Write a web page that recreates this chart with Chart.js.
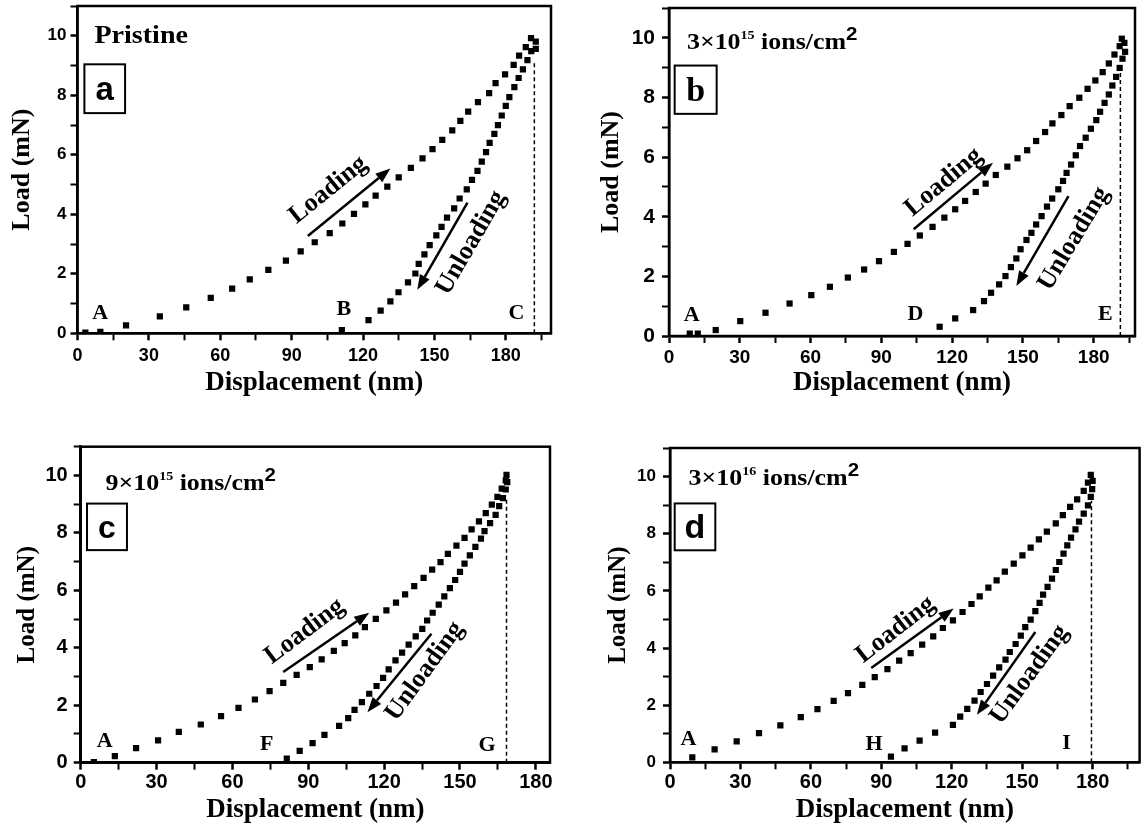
<!DOCTYPE html>
<html>
<head>
<meta charset="utf-8">
<script src="https://cdn.jsdelivr.net/npm/chart.js@4.4.1/dist/chart.umd.min.js"></script>
<style>
  body { margin: 0; background: #fff; overflow: hidden; }
  #page { position: relative; width: 1144px; height: 825px; background: #fff; }
  .panel { position: absolute; width: 572px; }
</style>
</head>
<body>
<div id="page">
  <div class="panel" style="left:0;top:0;height:412px"><canvas id="chartA"></canvas></div>
  <div class="panel" style="left:572px;top:0;height:412px"><canvas id="chartB"></canvas></div>
  <div class="panel" style="left:0;top:412px;height:413px"><canvas id="chartC"></canvas></div>
  <div class="panel" style="left:572px;top:412px;height:413px"><canvas id="chartD"></canvas></div>
</div>
<script>
const SANS = "'Liberation Sans', Arial, sans-serif";
const SERIF = "'Liberation Serif', 'Times New Roman', serif";

// axis ticks (minor every 15 nm / 1 mN, labels on the majors)
const xTickValues = [0, 15, 30, 45, 60, 75, 90, 105, 120, 135, 150, 165, 180, 195];
const xTickLabels = [0, 30, 60, 90, 120, 150, 180];
const yTickValues = [0, 1, 2, 3, 4, 5, 6, 7, 8, 9, 10, 11];
const yTickLabels = [0, 2, 4, 6, 8, 10];

// [displacement nm, load mN]
const pristineLoading = [[3.3,0.02],[9.6,0.05],[20.4,0.27],[34.6,0.57],[45.7,0.87],[56.0,1.19],[65.0,1.50],[72.4,1.81],[80.2,2.13],[87.6,2.44],[93.8,2.75],[99.7,3.06],[106.0,3.37],[111.3,3.69],[116.2,4.01],[121.0,4.33],[125.3,4.63],[130.2,4.93],[135.0,5.24],[140.1,5.56],[145.0,5.88],[149.2,6.19],[153.3,6.50],[157.5,6.82],[160.9,7.14],[164.2,7.45],[168.3,7.77],[173.0,8.07],[175.7,8.41],[179.7,8.70],[183.3,9.02],[185.6,9.33],[188.4,9.62],[190.6,9.92]];
const pristineUnloading = [[111.1,0.11],[122.3,0.44],[127.4,0.76],[131.5,1.07],[134.9,1.38],[138.9,1.71],[142.0,2.01],[143.4,2.33],[145.8,2.65],[148.0,2.96],[150.8,3.29],[153.0,3.58],[155.3,3.89],[158.3,4.20],[160.6,4.53],[163.6,4.84],[165.8,5.16],[168.1,5.46],[169.9,5.77],[171.7,6.09],[173.2,6.40],[175.2,6.70],[176.7,7.00],[178.3,7.32],[180.0,7.64],[181.5,7.94],[183.6,8.27],[185.4,8.58],[187.2,8.87],[189.1,9.18],[190.7,9.48],[192.6,9.56],[192.6,9.80]];

const dose3e15Loading = [[8.8,0.08],[12.2,0.08],[19.8,0.20],[30.2,0.50],[40.9,0.78],[51.1,1.09],[60.3,1.37],[68.2,1.65],[75.8,1.96],[82.7,2.23],[89.0,2.51],[95.3,2.82],[101.1,3.09],[106.3,3.37],[111.7,3.66],[116.7,3.97],[121.3,4.25],[125.5,4.53],[130.0,4.83],[134.2,5.11],[138.5,5.40],[143.4,5.68],[147.7,5.96],[151.8,6.23],[155.6,6.54],[159.4,6.84],[162.5,7.13],[166.3,7.41],[169.8,7.71],[173.9,7.99],[177.4,8.29],[180.7,8.57],[183.8,8.85],[186.4,9.14],[188.8,9.44],[191.0,9.72],[191.9,9.97]];
const dose3e15Unloading = [[114.7,0.31],[121.3,0.59],[128.9,0.87],[133.5,1.17],[136.5,1.45],[139.9,1.73],[142.6,2.01],[144.9,2.31],[147.2,2.60],[149.0,2.91],[151.5,3.22],[153.6,3.46],[155.6,3.74],[157.9,4.02],[160.2,4.34],[162.4,4.61],[165.0,4.92],[167.0,5.20],[168.5,5.47],[170.4,5.75],[172.4,6.06],[174.2,6.37],[176.6,6.65],[178.8,6.95],[181.1,7.24],[182.7,7.52],[184.6,7.82],[186.4,8.10],[187.9,8.40],[189.5,8.69],[191.0,8.99],[192.2,9.30],[193.3,9.53],[193.0,9.83]];

const dose9e15Loading = [[5.2,0.02],[13.5,0.23],[21.9,0.51],[30.6,0.78],[38.8,1.07],[47.5,1.33],[55.5,1.62],[62.4,1.91],[68.9,2.20],[74.7,2.49],[80.1,2.78],[85.4,3.06],[90.6,3.33],[95.3,3.60],[100.1,3.89],[104.4,4.16],[108.6,4.43],[112.4,4.72],[116.7,5.01],[120.9,5.30],[124.7,5.57],[128.3,5.86],[131.9,6.15],[135.6,6.43],[139.0,6.72],[142.3,6.98],[145.2,7.27],[148.6,7.56],[151.8,7.83],[154.6,8.12],[157.5,8.40],[160.2,8.69],[162.6,8.98],[164.8,9.25],[166.5,9.54],[168.1,9.83],[168.4,10.02]];
const dose9e15Unloading = [[81.5,0.14],[86.6,0.41],[91.7,0.68],[96.4,0.97],[102.2,1.28],[105.8,1.55],[108.3,1.84],[111.2,2.11],[114.1,2.40],[117.0,2.67],[119.6,2.95],[121.8,3.25],[124.5,3.56],[127.1,3.83],[129.7,4.11],[132.5,4.40],[135.1,4.66],[137.0,4.95],[139.2,5.22],[141.6,5.50],[143.8,5.79],[146.0,6.08],[148.1,6.36],[150.0,6.64],[151.8,6.93],[153.9,7.22],[156.1,7.51],[158.3,7.80],[159.7,8.06],[161.9,8.34],[164.1,8.63],[165.5,8.93],[167.0,9.21],[168.1,9.51],[168.7,9.77]];

const dose3e16Loading = [[9.5,0.17],[19.0,0.45],[28.4,0.73],[37.9,1.02],[47.0,1.29],[55.7,1.58],[62.8,1.86],[69.7,2.15],[75.8,2.42],[81.9,2.71],[87.2,2.98],[92.6,3.26],[97.6,3.56],[102.5,3.82],[107.4,4.12],[112.1,4.41],[116.2,4.70],[120.5,4.97],[124.6,5.26],[128.4,5.54],[131.9,5.81],[135.6,6.11],[139.1,6.37],[142.6,6.67],[146.4,6.95],[150.1,7.24],[153.6,7.51],[157.1,7.80],[160.5,8.07],[164.3,8.36],[167.3,8.65],[170.4,8.94],[173.4,9.20],[176.2,9.50],[178.0,9.79],[179.2,10.06]];
const dose3e16Unloading = [[94.1,0.20],[99.9,0.49],[106.3,0.76],[112.9,1.04],[120.5,1.31],[123.6,1.60],[126.6,1.87],[129.7,2.16],[132.3,2.46],[135.0,2.74],[137.6,3.03],[140.2,3.32],[142.9,3.59],[144.7,3.86],[147.2,4.14],[149.4,4.43],[151.3,4.73],[153.6,4.99],[155.6,5.29],[157.4,5.58],[158.9,5.87],[160.8,6.14],[162.7,6.43],[164.3,6.73],[165.8,7.01],[167.6,7.30],[169.2,7.59],[170.8,7.86],[172.7,8.15],[174.2,8.42],[176.2,8.70],[178.0,8.99],[179.2,9.29],[179.8,9.56],[180.0,9.85]];

// dashed drop line at maximum depth: [x, top]
const pristinePeak = [192.0, 9.1];
const dose3e15Peak = [191.3, 9.05];
const dose9e15Peak = [168.4, 9.19];
const dose3e16Peak = [179.5, 9.15];

const toXY = (pairs) => pairs.map(([x, y]) => ({ x, y }));

function drawArrow(ctx, x0, y0, x1, y1) {
  const ang = Math.atan2(y1 - y0, x1 - x0);
  const head = 15, half = 5.5;
  const bx = x1 - head * Math.cos(ang), by = y1 - head * Math.sin(ang);
  ctx.lineWidth = 2.5;
  ctx.beginPath();
  ctx.moveTo(x0, y0);
  ctx.lineTo(bx, by);
  ctx.stroke();
  ctx.beginPath();
  ctx.moveTo(x1, y1);
  ctx.lineTo(bx + half * Math.sin(ang), by - half * Math.cos(ang));
  ctx.lineTo(bx - half * Math.sin(ang), by + half * Math.cos(ang));
  ctx.closePath();
  ctx.fill();
}

function drawRotated(ctx, text, x, y, deg) {
  ctx.save();
  ctx.translate(x, y);
  ctx.rotate(deg * Math.PI / 180);
  ctx.textAlign = 'center';
  ctx.textBaseline = 'middle';
  ctx.fillText(text, 0, 0);
  ctx.restore();
}

// frame, heading, letter box, point letters and the loading/unloading arrows
function makeNotes(p) {
  return {
    id: 'panelNotes',
    afterDraw(chart) {
      const { ctx, chartArea: area, scales: { x, y } } = chart;
      const px = (v) => x.getPixelForValue(v);
      const py = (v) => y.getPixelForValue(v);
      ctx.save();
      ctx.strokeStyle = '#000';
      ctx.fillStyle = '#000';
      ctx.lineWidth = 2.5;
      ctx.strokeRect(area.left, area.top, area.right - area.left, area.bottom - area.top);

      // heading, slightly widened like the rest of the lettering
      ctx.save();
      ctx.translate(px(p.headingAt[0]), py(p.headingAt[1]));
      ctx.scale(1.08, 1);
      ctx.textAlign = 'left';
      ctx.textBaseline = 'alphabetic';
      let hx = 0;
      p.heading.forEach(([text, size, rise, family]) => {
        ctx.font = `bold ${size}px ${family || SERIF}`;
        ctx.fillText(text, hx, -rise);
        hx += ctx.measureText(text).width;
      });
      ctx.restore();

      // panel letter
      const [bx0, bx1, by0, by1] = p.badge;
      const l = px(bx0), r = px(bx1), t = py(by0), b = py(by1);
      ctx.lineWidth = 2;
      ctx.strokeRect(l, t, r - l, b - t);
      ctx.font = p.badgeFont;
      ctx.textAlign = 'center';
      ctx.textBaseline = 'alphabetic';
      ctx.fillText(p.badgeText, (l + r) / 2, t + (b - t) * 0.74);

      // A, B, C ...
      ctx.font = `bold 22px ${SERIF}`;
      ctx.textBaseline = 'middle';
      p.marks.forEach(([text, mx, my]) => ctx.fillText(text, px(mx), py(my)));

      // arrows with rotated captions
      const la = p.loadArrow, ua = p.unloadArrow;
      drawArrow(ctx, px(la[0]), py(la[1]), px(la[2]), py(la[3]));
      drawArrow(ctx, px(ua[0]), py(ua[1]), px(ua[2]), py(ua[3]));
      ctx.font = `bold 26px ${SERIF}`;
      drawRotated(ctx, 'Loading', px(p.loadText[0]), py(p.loadText[1]), p.loadText[2]);
      drawRotated(ctx, 'Unloading', px(p.unloadText[0]), py(p.unloadText[1]), p.unloadText[2]);
      ctx.restore();
    }
  };
}

function buildPanel(p) {
  const pointStyle = { pointStyle: 'rect', pointRadius: 4.4, pointHoverRadius: 4.4, backgroundColor: '#000', borderWidth: 0 };
  return new Chart(document.getElementById(p.id), {
    type: 'scatter',
    data: {
      datasets: [
        { label: 'Loading', data: toXY(p.loading), ...pointStyle },
        { label: 'Unloading', data: toXY(p.unloading), ...pointStyle },
        {
          label: 'Max depth',
          data: [{ x: p.peak[0], y: 0 }, { x: p.peak[0], y: p.peak[1] }],
          showLine: true, borderColor: '#000', borderWidth: 1.5, borderDash: [4, 3], pointRadius: 0
        }
      ]
    },
    options: {
      responsive: true,
      maintainAspectRatio: false,
      animation: false,
      layout: { padding: { top: p.padTop, right: p.padRight, left: 0, bottom: 0 } },
      plugins: { legend: { display: false }, tooltip: { enabled: false } },
      scales: {
        x: {
          type: 'linear', min: 0, max: p.xMax,
          afterBuildTicks: (axis) => { axis.ticks = xTickValues.filter(v => v <= p.xMax).map(v => ({ value: v })); },
          afterFit: (axis) => { axis.height = p.xAxisH; axis.paddingLeft = 0; axis.paddingRight = 0; },
          ticks: {
            autoSkip: false, maxRotation: 0, padding: p.xTickPad, color: '#000',
            font: { family: SANS, size: p.xTickSize, weight: 'bold' },
            callback: (v) => xTickLabels.includes(v) ? String(v) : ''
          },
          grid: {
            drawOnChartArea: false, tickLength: 7, tickColor: '#000',
            tickWidth: (c) => xTickLabels.includes(c.tick && c.tick.value) ? 2.5 : 2
          },
          border: { display: true, color: '#000', width: 2.5 },
          title: {
            display: true, text: 'Displacement (nm)', color: '#000',
            font: { family: SERIF, size: 27, weight: 'bold', lineHeight: 1 },
            padding: { top: 0, bottom: p.xTitlePad }
          }
        },
        y: {
          type: 'linear', min: 0, max: 11,
          afterBuildTicks: (axis) => { axis.ticks = yTickValues.map(v => ({ value: v })); },
          afterFit: (axis) => { axis.width = p.yAxisW; axis.paddingTop = 0; axis.paddingBottom = 0; },
          ticks: {
            autoSkip: false, padding: p.yTickPad, color: '#000',
            font: { family: SANS, size: p.yTickSize, weight: 'bold' },
            callback: (v) => yTickLabels.includes(v) ? String(v) : ''
          },
          grid: {
            drawOnChartArea: false, tickLength: 7, tickColor: '#000',
            tickWidth: (c) => yTickLabels.includes(c.tick && c.tick.value) ? 2.5 : 2
          },
          border: { display: true, color: '#000', width: 2.5 },
          title: {
            display: true, text: 'Load (mN)', color: '#000',
            font: { family: SERIF, size: p.yTitleSize, weight: 'bold', lineHeight: 1 },
            padding: { top: p.yTitlePad, bottom: 0 }
          }
        }
      }
    },
    plugins: [makeNotes(p)]
  });
}

buildPanel({
  id: 'chartA', xMax: 199, loading: pristineLoading, unloading: pristineUnloading, peak: pristinePeak,
  padTop: 6, padRight: 21, yAxisW: 77.5, xAxisH: 78.7,
  xTickSize: 18, yTickSize: 17, xTickPad: 5, yTickPad: 4, xTitlePad: 15, yTitleSize: 26, yTitlePad: 9,
  heading: [['Pristine', 26, 0]], headingAt: [7.1, 9.77],
  badge: [2.9, 20, 9.04, 7.40], badgeText: 'a', badgeFont: `bold 33px ${SANS}`,
  marks: [['A', 9.5, 0.66], ['B', 111.9, 0.81], ['C', 184.5, 0.68]],
  loadArrow: [96.8, 3.27, 131.5, 5.54], loadText: [105.4, 4.82, -39],
  unloadArrow: [163.9, 4.39, 142.8, 1.46], unloadText: [165.4, 3.04, -60]
});

buildPanel({
  id: 'chartB', xMax: 197.5, loading: dose3e15Loading, unloading: dose3e15Unloading, peak: dose3e15Peak,
  padTop: 8, padRight: 9, yAxisW: 97, xAxisH: 76,
  xTickSize: 19, yTickSize: 21, xTickPad: 3, yTickPad: 7, xTitlePad: 15, yTitleSize: 26, yTitlePad: 26,
  heading: [['3×10', 24, 0], ['15', 13, 10], [' ions/cm', 24, 0], ['2', 19, 9, SANS]], headingAt: [7.6, 9.63],
  badge: [2.4, 20.2, 9.07, 7.45], badgeText: 'b', badgeFont: `bold 34px ${SERIF}`,
  marks: [['A', 9.6, 0.71], ['D', 104.5, 0.73], ['E', 184.9, 0.73]],
  loadArrow: [103.7, 3.58, 137.3, 5.81], loadText: [116.4, 5.16, -40],
  unloadArrow: [169.3, 4.69, 147.2, 1.68], unloadText: [171.6, 3.26, -59]
});

buildPanel({
  id: 'chartC', xMax: 185.6, loading: dose9e15Loading, unloading: dose9e15Unloading, peak: dose9e15Peak,
  padTop: 34.7, padRight: 22, yAxisW: 80.7, xAxisH: 62.3,
  xTickSize: 20, yTickSize: 20, xTickPad: 1, yTickPad: 6, xTitlePad: 1, yTitleSize: 25, yTitlePad: 15,
  heading: [['9×10', 24, 0], ['15', 13, 10], [' ions/cm', 24, 0], ['2', 19, 9, SANS]], headingAt: [9.8, 9.48],
  badge: [2.5, 18.3, 9.02, 7.40], badgeText: 'c', badgeFont: `bold 32px ${SANS}`,
  marks: [['A', 9.5, 0.76], ['F', 73.6, 0.63], ['G', 160.7, 0.60]],
  loadArrow: [80.1, 3.16, 114.1, 5.22], loadText: [88.6, 4.57, -37],
  unloadArrow: [138.7, 4.49, 113.4, 1.76], unloadText: [136.1, 3.18, -54]
});

buildPanel({
  id: 'chartD', xMax: 200, loading: dose3e16Loading, unloading: dose3e16Unloading, peak: dose3e16Peak,
  padTop: 36, padRight: 2, yAxisW: 98, xAxisH: 62.7,
  xTickSize: 20, yTickSize: 17, xTickPad: 1, yTickPad: 7, xTitlePad: 1, yTitleSize: 25, yTitlePad: 34,
  heading: [['3×10', 24, 0], ['16', 13, 10], [' ions/cm', 24, 0], ['2', 19, 9, SANS]], headingAt: [7.9, 9.71],
  badge: [2.0, 19.3, 9.06, 7.42], badgeText: 'd', badgeFont: `bold 34px ${SANS}`,
  marks: [['A', 7.9, 0.80], ['H', 86.9, 0.63], ['I', 168.9, 0.67]],
  loadArrow: [85.7, 3.30, 120.8, 5.38], loadText: [96.1, 4.64, -38],
  unloadArrow: [155.6, 4.56, 130.7, 1.66], unloadText: [153.1, 3.07, -54]
});
</script>
</body>
</html>
